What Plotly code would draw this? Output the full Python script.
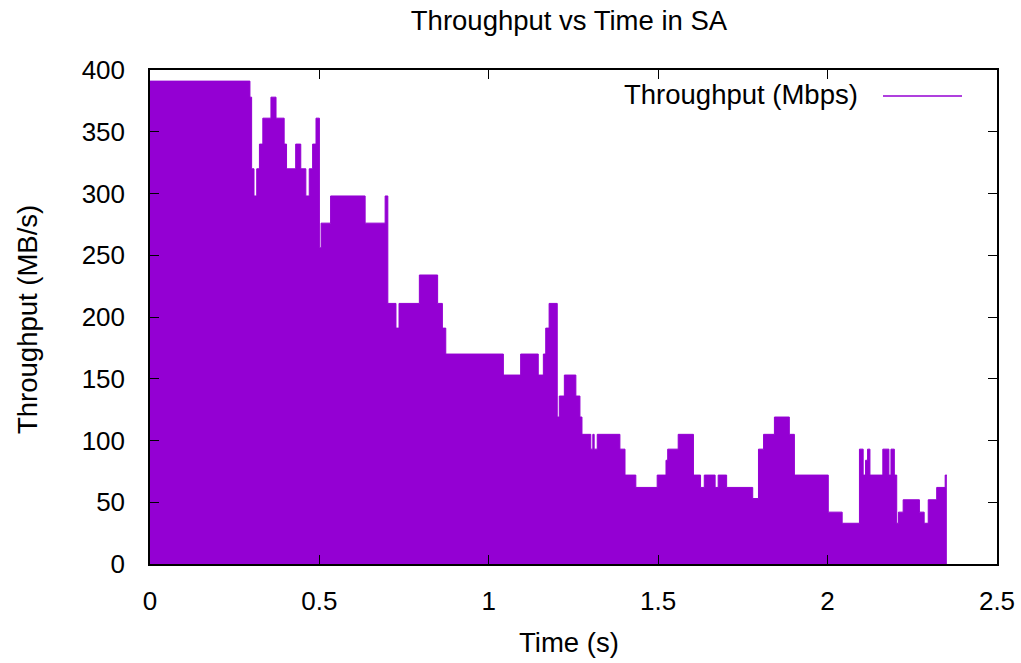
import plotly.graph_objects as go

# Step-change times (s) and throughput values (MB/s)
time_s = [0.000, 0.295, 0.300, 0.307, 0.315, 0.323, 0.333, 0.357, 0.372, 0.396,
          0.403, 0.430, 0.445, 0.460, 0.470, 0.480, 0.490, 0.500, 0.505, 0.533,
          0.635, 0.694, 0.702, 0.726, 0.735, 0.795, 0.849, 0.863, 0.873, 1.043,
          1.094, 1.146, 1.161, 1.168, 1.178, 1.202, 1.208, 1.223, 1.257, 1.269,
          1.275, 1.301, 1.307, 1.311, 1.320, 1.387, 1.402, 1.434, 1.497, 1.523,
          1.528, 1.559, 1.604, 1.625, 1.636, 1.668, 1.677, 1.702, 1.779, 1.796,
          1.811, 1.843, 1.887, 1.902, 2.002, 2.043, 2.094, 2.105, 2.112, 2.118,
          2.125, 2.163, 2.181, 2.187, 2.197, 2.204, 2.209, 2.223, 2.271, 2.285,
          2.297, 2.322, 2.347, 2.352]
throughput = [391, 378, 320, 298, 320, 340, 361, 378, 361, 340,
              320, 340, 320, 298, 320, 340, 361, 256, 276, 298,
              276, 298, 211, 191, 211, 234, 211, 191, 170, 153,
              170, 153, 170, 191, 211, 119, 136, 153, 136, 119,
              105, 93, 105, 93, 105, 93, 72, 62, 72, 84,
              93, 105, 72, 62, 72, 62, 72, 62, 53, 93,
              105, 119, 105, 72, 42, 33, 93, 72, 84, 93,
              72, 93, 72, 93, 72, 33, 42, 52, 42, 33,
              52, 62, 72, 72]

x_ticks = [0, 0.5, 1, 1.5, 2, 2.5]
x_tick_labels = ["0", "0.5", "1", "1.5", "2", "2.5"]
y_ticks = [0, 50, 100, 150, 200, 250, 300, 350, 400]

COLOR = "#9400D3"
FONT = "Liberation Sans, Arial, sans-serif"
TICK_SIZE = 26
TEXT_SIZE = 27.5

fig = go.Figure()
fig.add_trace(go.Scatter(
    x=time_s, y=throughput, mode="lines", line_shape="hv",
    line=dict(color=COLOR, width=1), fill="tozeroy", fillcolor=COLOR,
    name="Throughput (Mbps)", showlegend=False,
))

L, R, T, B = 150, 24, 70, 99
W, H = 1021, 663
pw, ph = W - L - R, H - T - B

axis_common = dict(
    showgrid=False, zeroline=False, showline=True, linecolor="black",
    linewidth=1.5, mirror="allticks", ticks="inside", ticklen=9,
    tickcolor="black", automargin=False,
    tickfont=dict(family=FONT, size=TICK_SIZE, color="black"),
)
fig.update_xaxes(range=[0, 2.5], tickvals=x_ticks, ticktext=x_tick_labels,
                 ticklabelstandoff=13, **axis_common)
fig.update_yaxes(range=[0, 400], tickvals=y_ticks,
                 ticklabelstandoff=18, **axis_common)

# axis titles
fig.add_annotation(xref="paper", yref="paper", x=(569 - L) / pw, y=-(642 - (H - B)) / ph,
                   xanchor="center", yanchor="middle", showarrow=False,
                   text="Time (s)", font=dict(family=FONT, size=TEXT_SIZE, color="black"))
fig.add_annotation(xref="paper", yref="paper", x=-(L - 27) / pw, y=(H - B - 320) / ph,
                   xanchor="center", yanchor="middle", showarrow=False, textangle=-90,
                   text="Throughput (MB/s)", font=dict(family=FONT, size=TEXT_SIZE, color="black"))

# gnuplot-style legend: text right-aligned followed by line sample
fig.add_annotation(xref="paper", yref="paper", x=(860 - L) / pw, y=(H - B - 94) / ph,
                   xanchor="right", yanchor="middle", showarrow=False,
                   text="Throughput (Mbps)", font=dict(family=FONT, size=TEXT_SIZE, color="black"))
fig.add_shape(type="line", xref="paper", yref="paper",
              x0=(883 - L) / pw, x1=(962 - L) / pw,
              y0=(H - B - 96) / ph, y1=(H - B - 96) / ph,
              line=dict(color=COLOR, width=1.5))

fig.update_layout(
    width=W, height=H, margin=dict(l=L, r=R, t=T, b=B),
    paper_bgcolor="white", plot_bgcolor="white",
    title=dict(text="Throughput vs Time in SA", x=569 / W, xanchor="center",
               y=1 - 20 / H, yanchor="middle",
               font=dict(family=FONT, size=TEXT_SIZE, color="black")),
    font=dict(family=FONT, size=TICK_SIZE, color="black"),
)

fig.write_html("out.html")
